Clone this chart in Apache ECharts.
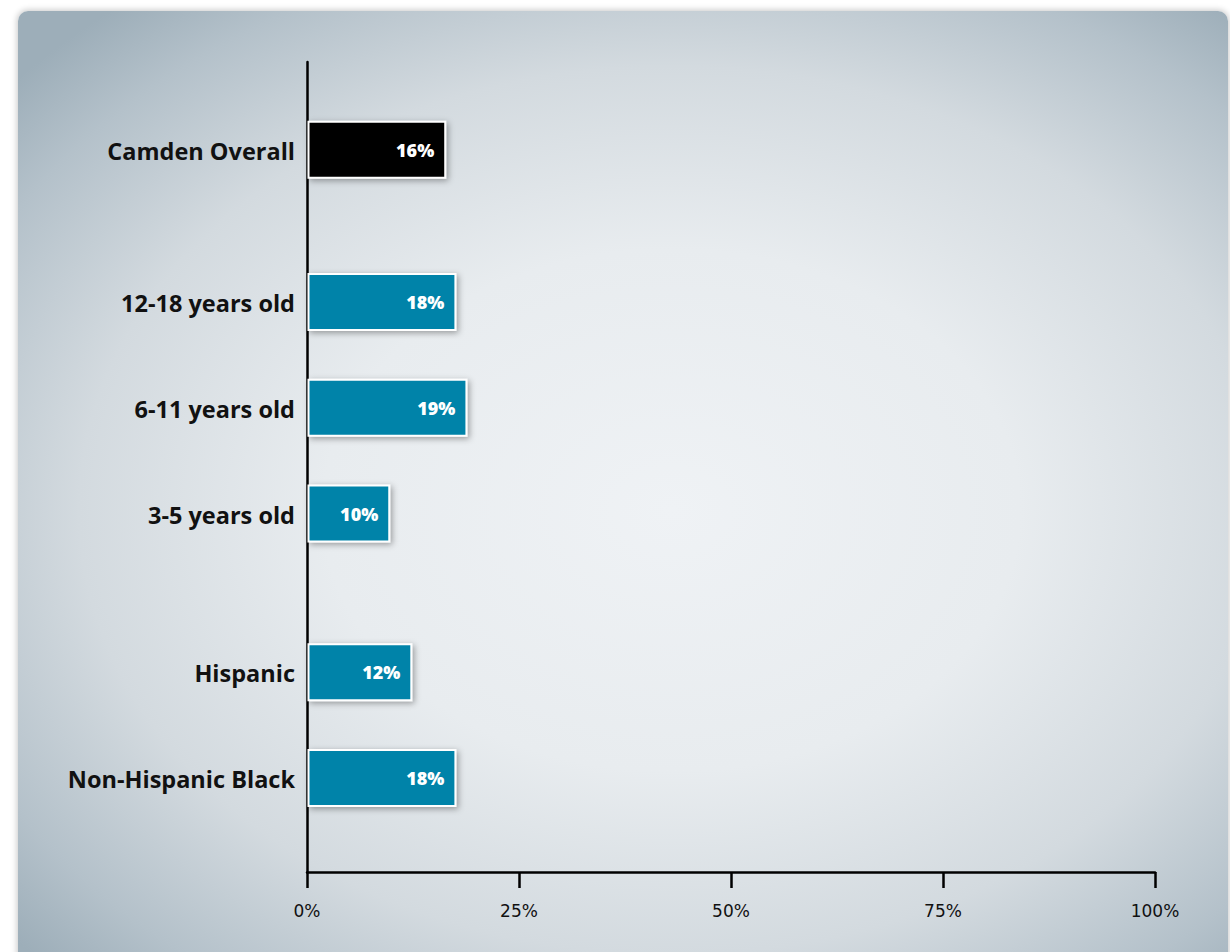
<!DOCTYPE html>
<html>
<head>
<meta charset="utf-8">
<script src="https://cdn.jsdelivr.net/npm/echarts@6/dist/echarts.min.js"></script>
<style>
  html, body { margin:0; padding:0; width:1230px; height:952px; background:#ffffff; overflow:hidden; }
  #panel {
    position:absolute; left:18px; top:11px; width:1210px; height:960px;
    border-radius:10px;
    background: radial-gradient(ellipse 72% 68% at 54% 52%, #eff2f5 0%, #e8ecef 40%, #d3dadf 68%, #b4c1ca 88%, #9daeb9 100%);
    box-shadow: 0 0 6px 1px rgba(0,0,0,0.22);
  }
  #chart { position:absolute; left:0; top:0; width:1230px; height:952px; }
</style>
</head>
<body>
<div id="panel"></div>
<div id="chart"></div>
<script>
// ---- data ----
const categories = ["Camden Overall", "12-18 years old", "6-11 years old", "3-5 years old", "Hispanic", "Non-Hispanic Black"];
const values = [16.3, 17.5, 18.8, 9.7, 12.3, 17.5];
const groupSizes = [1, 3, 2];          // how categories are grouped
const xTicks = [0, 25, 50, 75, 100];

// ---- layout (not data) ----
const groupGap = [0.44, 0.5];
const colors = { highlight: "#000000", normal: "#0083a9" };

// compute vertical slot positions from grouping
const positions = [];
(function () {
  let p = 0;
  groupSizes.forEach((n, g) => {
    for (let i = 0; i < n; i++) { positions.push(p); p += 1; }
    if (g < groupGap.length) p += groupGap[g];
  });
})();

const seriesData = values.map((v, i) => [v, positions[i], i]);

const chart = echarts.init(document.getElementById('chart'), null, { renderer: 'svg' });
const BAR_H = 56;

chart.setOption({
  backgroundColor: 'transparent',
  animation: false,
  grid: { left: 307, right: 75, top: 62, bottom: 80, containLabel: false },
  xAxis: {
    type: 'value', min: xTicks[0], max: xTicks[xTicks.length - 1], interval: xTicks[1] - xTicks[0],
    axisLine: { show: true, onZero: false, lineStyle: { color: '#000', width: 2.5 } },
    axisTick: { show: true, length: 16, lineStyle: { color: '#000', width: 2.5 } },
    splitLine: { show: false },
    axisLabel: { formatter: '{value}%', color: '#111', fontSize: 17, fontFamily: 'DejaVu Sans', margin: 30 }
  },
  yAxis: {
    type: 'value', inverse: true, min: -0.83, max: 6.83,
    axisLine: { show: true, onZero: false, lineStyle: { color: '#000', width: 2.5 } },
    axisTick: { show: false }, axisLabel: { show: false }, splitLine: { show: false }
  },
  series: [{
    type: 'custom',
    data: seriesData,
    encode: { x: 0, y: 1 },
    z: 1,
    renderItem: function (params, api) {
      const v = api.value(0), pos = api.value(1), i = api.value(2);
      const start = api.coord([0, pos]);
      const end = api.coord([v, pos]);
      const x0 = start[0] + 1.5;
      return {
        type: 'group',
        children: [
          {
            type: 'rect',
            shape: { x: x0, y: start[1] - BAR_H / 2, width: end[0] - x0, height: BAR_H },
            style: {
              fill: i === 0 ? colors.highlight : colors.normal,
              stroke: '#ffffff', lineWidth: 2,
              shadowBlur: 6, shadowColor: 'rgba(0,0,0,0.35)', shadowOffsetX: 2, shadowOffsetY: 2
            }
          },
          {
            type: 'text',
            style: {
              text: Math.round(v) + '%',
              x: end[0] - 11, y: start[1],
              align: 'right', verticalAlign: 'middle',
              fill: '#ffffff', font: '800 18px "Open Sans"'
            }
          },
          {
            type: 'text',
            style: {
              text: categories[i],
              x: start[0] - 12, y: start[1] + 1,
              align: 'right', verticalAlign: 'middle',
              fill: '#111111', font: 'bold 23.5px "Open Sans"'
            }
          }
        ]
      };
    }
  }]
});
</script>
</body>
</html>
